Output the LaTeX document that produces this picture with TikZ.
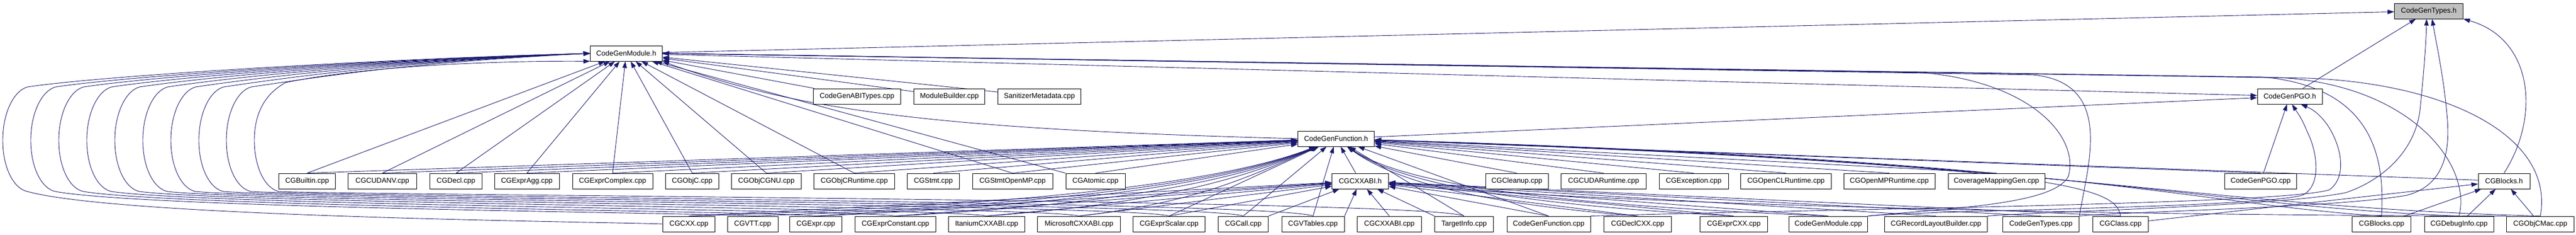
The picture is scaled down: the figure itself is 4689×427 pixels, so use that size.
\documentclass[tikz,border=0pt]{standalone}
\usepackage{fontspec}
\setmainfont{Liberation Sans}
\usetikzlibrary{arrows.meta,backgrounds}
\definecolor{edgeblue}{RGB}{25,25,112}
\definecolor{hdrgray}{RGB}{191,191,191}
\begin{document}
\begin{tikzpicture}[x=1pt, y=-1pt,
    file/.style={draw=black, line width=0.9pt, fill=white, minimum height=28pt, inner sep=0pt, font=\fontsize{13}{15}\selectfont},
    inc/.style={draw=edgeblue, line width=0.9pt, -{Triangle[length=12pt,width=8pt]}}]
  \useasboundingbox (0,0) rectangle (4689,427);
  % headers
  \node[file, fill=hdrgray, minimum width=125pt] (types) at (4421,20) {CodeGenTypes.h};
  \node[file, minimum width=131pt] (module) at (1140,97) {CodeGenModule.h};
  \node[file, minimum width=159pt] (abitypes) at (1560,175) {CodeGenABITypes.cpp};
  \node[file, minimum width=129pt] (modbuilder) at (1728,175) {ModuleBuilder.cpp};
  \node[file, minimum width=151pt] (sanmeta) at (1892,175) {SanitizerMetadata.cpp};
  \node[file, minimum width=118pt] (pgoh) at (4168,175) {CodeGenPGO.h};
  \node[file, minimum width=139pt] (func) at (2432,252) {CodeGenFunction.h};
  % middle row
  \node[file, minimum width=103pt] (builtin) at (559,329) {CGBuiltin.cpp};
  \node[file, minimum width=125pt] (cudanv) at (696,329) {CGCUDANV.cpp};
  \node[file, minimum width=95pt] (decl) at (830,329) {CGDecl.cpp};
  \node[file, minimum width=118pt] (expragg) at (959,329) {CGExprAgg.cpp};
  \node[file, minimum width=146pt] (exprcomplex) at (1115,329) {CGExprComplex.cpp};
  \node[file, minimum width=97pt] (objc) at (1260,329) {CGObjC.cpp};
  \node[file, minimum width=127pt] (objcgnu) at (1395,329) {CGObjCGNU.cpp};
  \node[file, minimum width=147pt] (objcrt) at (1555,329) {CGObjCRuntime.cpp};
  \node[file, minimum width=95pt] (stmt) at (1699,329) {CGStmt.cpp};
  \node[file, minimum width=146pt] (stmtomp) at (1843,329) {CGStmtOpenMP.cpp};
  \node[file, minimum width=108pt] (atomic) at (1994,329) {CGAtomic.cpp};
  \node[file, minimum width=103pt] (cxxabih) at (2476,329) {CGCXXABI.h};
  \node[file, minimum width=114pt] (cleanup) at (2761,329) {CGCleanup.cpp};
  \node[file, minimum width=155pt] (cudart) at (2919,329) {CGCUDARuntime.cpp};
  \node[file, minimum width=126pt] (exception) at (3083,329) {CGException.cpp};
  \node[file, minimum width=165pt] (openclrt) at (3251,329) {CGOpenCLRuntime.cpp};
  \node[file, minimum width=166pt] (openmprt) at (3439,329) {CGOpenMPRuntime.cpp};
  \node[file, minimum width=176pt] (covmap) at (3634,329) {CoverageMappingGen.cpp};
  \node[file, minimum width=131pt] (pgocpp) at (4115,329) {CodeGenPGO.cpp};
  \node[file, minimum width=94pt] (blocksh) at (4558,329) {CGBlocks.h};
  % bottom row
  \node[file, minimum width=95pt] (cxx) at (1254,407) {CGCXX.cpp};
  \node[file, minimum width=92pt] (vtt) at (1370,407) {CGVTT.cpp};
  \node[file, minimum width=95pt] (expr) at (1485,407) {CGExpr.cpp};
  \node[file, minimum width=147pt] (exprconst) at (1630,407) {CGExprConstant.cpp};
  \node[file, minimum width=139pt] (itanium) at (1796,407) {ItaniumCXXABI.cpp};
  \node[file, minimum width=151pt] (microsoft) at (1964,407) {MicrosoftCXXABI.cpp};
  \node[file, minimum width=131pt] (exprscalar) at (2128,407) {CGExprScalar.cpp};
  \node[file, minimum width=91pt] (call) at (2263,407) {CGCall.cpp};
  \node[file, minimum width=114pt] (vtables) at (2390,407) {CGVTables.cpp};
  \node[file, minimum width=117pt] (cxxabicpp) at (2529,407) {CGCXXABI.cpp};
  \node[file, minimum width=107pt] (targetinfo) at (2665,407) {TargetInfo.cpp};
  \node[file, minimum width=152pt] (funccpp) at (2819,407) {CodeGenFunction.cpp};
  \node[file, minimum width=123pt] (declcxx) at (2981,407) {CGDeclCXX.cpp};
  \node[file, minimum width=123pt] (exprcxx) at (3156,407) {CGExprCXX.cpp};
  \node[file, minimum width=143pt] (modulecpp) at (3328,407) {CodeGenModule.cpp};
  \node[file, minimum width=187pt] (recordlayout) at (3524,407) {CGRecordLayoutBuilder.cpp};
  \node[file, minimum width=139pt] (typescpp) at (3715,407) {CodeGenTypes.cpp};
  \node[file, minimum width=101pt] (class) at (3860,407) {CGClass.cpp};
  \node[file, minimum width=107pt] (blockscpp) at (4335,407) {CGBlocks.cpp};
  \node[file, minimum width=126pt] (debuginfo) at (4476,407) {CGDebugInfo.cpp};
  \node[file, minimum width=123pt] (objcmac) at (4624,407) {CGObjCMac.cpp};

  \begin{scope}[on background layer]
  \fill[white] (0,0) rectangle (4689,427);
  % into CodeGenTypes.h
  \draw[inc] (module) -- (types);
  \draw[inc] (pgoh) -- (types);
  \draw[inc] (blocksh.north) .. controls (4625,210) and (4610,70) .. (types.south east);
  \draw[inc] (recordlayout.north east) .. controls (3700,385) and (4150,375) .. (4270,350) .. controls (4330,330) and (4395,280) .. (4405,200) .. controls (4412,130) and (4416,80) .. ([xshift=-4pt]types.south);
  \draw[inc] (typescpp.north east) .. controls (3850,385) and (4250,378) .. (4380,355) .. controls (4440,340) and (4460,290) .. (4455,220) .. controls (4450,150) and (4435,80) .. ([xshift=6pt]types.south);

  % into CodeGenModule.h
  \draw[inc] (func.west) .. controls (1700,235) and (1450,200) .. (module.south east);
  \draw[inc] (abitypes) -- (module);
  \draw[inc] (modbuilder) -- (module);
  \draw[inc] (sanmeta) -- (module);
  \draw[inc] (builtin.north) -- (module);
  \draw[inc] (cudanv.north) -- (module);
  \draw[inc] (decl.north) -- (module);
  \draw[inc] (expragg.north) -- (module);
  \draw[inc] (exprcomplex.north) -- (module);
  \draw[inc] (objc.north) -- (module);
  \draw[inc] (objcgnu.north) -- (module);
  \draw[inc] (objcrt.north) -- (module);
  \draw[inc] (stmtomp.north) -- (module);
  \draw[inc] (atomic.north west) -- (module);
  \draw[inc] (cxx.west) .. controls (1100,403) and (220,395) .. (50,348) .. controls (25,343) and (5,305) .. (5,255) .. controls (5,205) and (25,165) .. (50,158) .. controls (205,135) and (750,105) .. (module.west);
  \draw[inc] (vtt.north) .. controls (1310,387) and (271,379) .. (101,348) .. controls (76,343) and (56,305) .. (56,255) .. controls (56,205) and (76,165) .. (101,158) .. controls (256,135) and (750,106) .. (module.west);
  \draw[inc] (expr.north) .. controls (1425,384) and (322,376) .. (152,348) .. controls (127,343) and (107,305) .. (107,255) .. controls (107,205) and (127,165) .. (152,158) .. controls (307,135) and (750,107) .. (module.west);
  \draw[inc] (exprconst.north) .. controls (1570,381) and (373,373) .. (203,348) .. controls (178,343) and (158,305) .. (158,255) .. controls (158,205) and (178,165) .. (203,158) .. controls (358,135) and (750,108) .. (module.west);
  \draw[inc] (itanium.north) .. controls (1736,378) and (424,370) .. (254,348) .. controls (229,343) and (209,305) .. (209,255) .. controls (209,205) and (229,165) .. (254,158) .. controls (409,135) and (750,109) .. (module.west);
  \draw[inc] (microsoft.north) .. controls (1904,375) and (475,367) .. (305,348) .. controls (280,343) and (260,305) .. (260,255) .. controls (260,205) and (280,165) .. (305,158) .. controls (460,135) and (750,110) .. (module.west);
  \draw[inc] (exprscalar.north) .. controls (2068,372) and (526,364) .. (356,348) .. controls (331,343) and (311,305) .. (311,255) .. controls (311,205) and (331,165) .. (356,158) .. controls (511,135) and (750,111) .. (module.west);
  \draw[inc] (call.north) .. controls (2203,369) and (577,361) .. (407,348) .. controls (382,343) and (362,305) .. (362,255) .. controls (362,205) and (382,165) .. (407,158) .. controls (562,135) and (750,112) .. (module.west);
  \draw[inc] (vtables.north) .. controls (2330,366) and (627,358) .. (457,348) .. controls (432,343) and (412,305) .. (412,255) .. controls (412,205) and (432,165) .. (457,158) .. controls (612,135) and (760,113) .. (module.west);
  \draw[inc] (targetinfo.north) .. controls (2605,363) and (678,355) .. (508,348) .. controls (483,343) and (463,305) .. (463,255) .. controls (463,205) and (483,170) .. (520,150) .. controls (640,125) and (850,110) .. (module.south west);
  \draw[inc] (objcmac.north) .. controls (4650,250) and (4460,152) .. (4200,142) -- (module.east);
  \draw[inc] (debuginfo.north) .. controls (4500,300) and (4390,155) .. (4150,141) -- (module.east);
  \draw[inc] (blockscpp.north) .. controls (4340,300) and (4330,160) .. (4120,140) -- (module.east);
  \draw[inc] (typescpp.north east) .. controls (3800,300) and (3850,150) .. (3700,136) -- (module.east);
  \draw[inc] (modulecpp.north east) .. controls (3550,378) and (3740,372) .. (3765,320) .. controls (3785,250) and (3700,150) .. (3500,132) -- (module.east);

  % into CodeGenPGO.h
  \draw[inc] (module) -- (pgoh);
  \draw[inc] (func) -- (pgoh);
  \draw[inc] (pgocpp) -- (pgoh);
  \draw[inc] (modulecpp.north east) .. controls (3500,382) and (4100,378) .. (4190,355) .. controls (4225,340) and (4220,280) .. (4200,240) .. controls (4190,215) and (4182,205) .. ([xshift=4pt]pgoh.south);
  \draw[inc] (funccpp.north east) .. controls (3300,380) and (4150,372) .. (4240,345) .. controls (4275,320) and (4260,260) .. (4235,225) .. controls (4220,205) and (4208,198) .. ([xshift=20pt]pgoh.south);

  % into CGBlocks.h
  \draw[inc] (blockscpp) -- (blocksh);
  \draw[inc] (debuginfo) -- (blocksh);
  \draw[inc] (objcmac) -- (blocksh);
  \draw[inc] (class) -- (blocksh);

  % into CodeGenFunction.h
  \draw[inc] (blocksh) -- (func);
  \draw[inc] (cxxabih) -- (func);
  \draw[inc] (builtin.north) -- (func);
  \draw[inc] (cudanv.north) -- (func);
  \draw[inc] (decl.north) -- (func);
  \draw[inc] (expragg.north) -- (func);
  \draw[inc] (exprcomplex.north) -- (func);
  \draw[inc] (objc.north) -- (func);
  \draw[inc] (objcgnu.north) -- (func);
  \draw[inc] (objcrt.north) -- (func);
  \draw[inc] (stmt.north) -- (func);
  \draw[inc] (stmtomp.north) -- (func);
  \draw[inc] (atomic.north) -- (func);
  \draw[inc] (cleanup.north) -- (func);
  \draw[inc] (cudart.north) -- (func);
  \draw[inc] (exception.north) -- (func);
  \draw[inc] (openclrt.north) -- (func);
  \draw[inc] (openmprt.north) -- (func);
  \draw[inc] (covmap.north) -- (func);
  \draw[inc] (pgocpp.north) -- (func);
  \draw[inc] (cxx.north) .. controls (1882,374) and (2230,330) .. (func);
  \draw[inc] (vtt.north) .. controls (1928,373) and (2235,330) .. (func);
  \draw[inc] (expr.north) .. controls (1974,372) and (2240,330) .. (func);
  \draw[inc] (exprconst.north) .. controls (2032,371) and (2245,330) .. (func);
  \draw[inc] (itanium.north) .. controls (2098,370) and (2250,330) .. (func);
  \draw[inc] (microsoft.north) .. controls (2166,369) and (2255,330) .. (func);
  \draw[inc] (exprscalar.north) -- (func);
  \draw[inc] (call.north) -- (func);
  \draw[inc] (vtables.north) -- (func);
  \draw[inc] (targetinfo.north) -- (func);
  \draw[inc] (funccpp.north) -- (func);
  \draw[inc] (declcxx.north) .. controls (2764,375) and (2560,345) .. (func);
  \draw[inc] (exprcxx.north) .. controls (2834,375) and (2565,345) .. (func);
  \draw[inc] (modulecpp.north) .. controls (2903,375) and (2570,345) .. (func);
  \draw[inc] (class.north) .. controls (3850,345) and (3800,300) .. (func);
  \draw[inc] (blockscpp.north) .. controls (4000,372) and (3800,292) .. (func);
  \draw[inc] (debuginfo.north) .. controls (4000,374) and (3800,294) .. (func);
  \draw[inc] (objcmac.north) .. controls (4000,376) and (3800,296) .. (func);

  % into CGCXXABI.h
  \draw[inc] (cxx.north) -- (cxxabih);
  \draw[inc] (expr.north) -- (cxxabih);
  \draw[inc] (exprconst.north) -- (cxxabih);
  \draw[inc] (itanium.north) -- (cxxabih);
  \draw[inc] (microsoft.north) -- (cxxabih);
  \draw[inc] (exprscalar.north) -- (cxxabih);
  \draw[inc] (call.north east) -- (cxxabih);
  \draw[inc] (vtables.north east) -- (cxxabih);
  \draw[inc] (cxxabicpp.north) -- (cxxabih);
  \draw[inc] (targetinfo.north west) -- (cxxabih);
  \draw[inc] (funccpp.north) -- (cxxabih);
  \draw[inc] (declcxx.north) -- (cxxabih);
  \draw[inc] (exprcxx.north) -- (cxxabih);
  \draw[inc] (modulecpp.north) -- (cxxabih);
  \draw[inc] (recordlayout.north) -- (cxxabih);
  \draw[inc] (typescpp.north) -- (cxxabih);
  \draw[inc] (class.north) -- (cxxabih);
  \draw[inc] (objcmac.north west) .. controls (3500,390) and (2800,360) .. (cxxabih);
  \end{scope}
\end{tikzpicture}
\end{document}
